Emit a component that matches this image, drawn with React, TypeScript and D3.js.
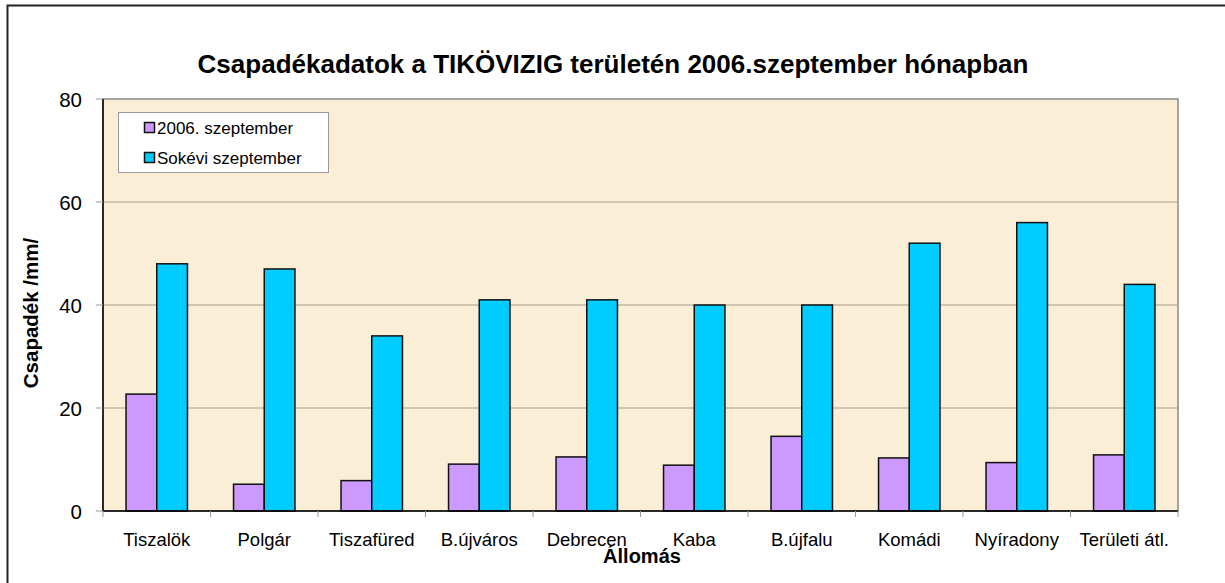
import * as d3 from "d3";

// stations (x categories)
const stations = [
  "Tiszalök",
  "Polgár",
  "Tiszafüred",
  "B.újváros",
  "Debrecen",
  "Kaba",
  "B.újfalu",
  "Komádi",
  "Nyíradony",
  "Területi átl.",
];

// series values, mm
const sept2006 = [22.7, 5.2, 5.9, 9.1, 10.5, 8.9, 14.5, 10.3, 9.4, 10.9];
const sokevi = [48, 47, 34, 41, 41, 40, 40, 52, 56, 44];

const seriesNames = ["2006. szeptember", "Sokévi szeptember"];
const seriesColors = ["#CC99FF", "#00CCFF"];
const yTicks = [0, 20, 40, 60, 80];

const W = 1225;
const H = 583;
const margin = { top: 99, right: 47, bottom: 72, left: 103 };

const App = () => {
  const plotW = W - margin.left - margin.right;
  const plotH = H - margin.top - margin.bottom;

  const x = d3.scaleBand().domain(stations).range([margin.left, margin.left + plotW]);
  const step = x.bandwidth();
  // excel style: gap width 150% of a bar
  const barW = step / 3.5;
  const gap = step - 2 * barW;
  const xs = d3
    .scaleBand()
    .domain(seriesNames)
    .range([gap / 2, gap / 2 + 2 * barW]);

  const y = d3.scaleLinear().domain([0, 80]).range([margin.top + plotH, margin.top]);

  const data = [sept2006, sokevi];
  const font = "'Liberation Sans', Arial, sans-serif";

  return (
    <svg
      width={W}
      height={H}
      style={{ position: "absolute", left: 0, top: 0, background: "#fff", fontFamily: font }}
    >
      {/* outer chart border, cut off on right and bottom */}
      <rect x={7.5} y={5.5} width={W + 20} height={H + 20} fill="#fff" stroke="#222" strokeWidth={2} />

      <text x={613} y={73} textAnchor="middle" fontSize={26} fontWeight="bold" fill="#000">
        Csapadékadatok a TIKÖVIZIG területén 2006.szeptember hónapban
      </text>

      {/* plot area */}
      <rect x={margin.left} y={margin.top} width={plotW} height={plotH} fill="#FBEED6" stroke="#8a8a8a" strokeWidth={1.5} />

      {/* grid lines */}
      {yTicks.slice(1, -1).map((t) => (
        <line key={t} x1={margin.left} x2={margin.left + plotW} y1={y(t)} y2={y(t)} stroke="#A39E8C" strokeWidth={1} />
      ))}

      {/* bars */}
      {data.map((vals, si) =>
        vals.map((v, i) => (
          <rect
            key={si + "-" + i}
            x={(x(stations[i]) as number) + (xs(seriesNames[si]) as number)}
            y={y(v)}
            width={xs.bandwidth()}
            height={y(0) - y(v)}
            fill={seriesColors[si]}
            stroke="#111"
            strokeWidth={1.5}
          />
        ))
      )}

      {/* y axis */}
      <line x1={margin.left} x2={margin.left} y1={margin.top} y2={y(0)} stroke="#000" strokeWidth={1.5} />
      {yTicks.map((t) => (
        <g key={t}>
          <line x1={margin.left - 7} x2={margin.left} y1={y(t)} y2={y(t)} stroke="#999" />
          <text x={82} y={y(t) + 7.5} textAnchor="end" fontSize={20.5} fill="#000">
            {t}
          </text>
        </g>
      ))}

      {/* x axis */}
      <line x1={margin.left} x2={margin.left + plotW} y1={y(0)} y2={y(0)} stroke="#000" strokeWidth={1.5} />
      {stations.map((s) => (
        <g key={s}>
          <line x1={(x(s) as number) + step} x2={(x(s) as number) + step} y1={y(0)} y2={y(0) + 6} stroke="#999" />
          <text x={(x(s) as number) + step / 2} y={546} textAnchor="middle" fontSize={18.5} fill="#000">
            {s}
          </text>
        </g>
      ))}
      <line x1={margin.left} x2={margin.left} y1={y(0)} y2={y(0) + 6} stroke="#999" />

      <text x={642} y={563} textAnchor="middle" fontSize={20} fontWeight="bold" fill="#000">
        Állomás
      </text>
      <text
        transform="translate(38,313) rotate(-90)"
        textAnchor="middle"
        fontSize={20.5}
        fontWeight="bold"
        fill="#000"
      >
        Csapadék /mm/
      </text>

      {/* legend */}
      <g>
        <rect x={118.5} y={112.5} width={210} height={60} fill="#fff" stroke="#999" />
        {seriesNames.map((n, i) => (
          <g key={n}>
            <rect x={144.5} y={122.5 + i * 30} width={10} height={10} fill={seriesColors[i]} stroke="#111" strokeWidth={1.5} />
            <text x={157} y={134 + i * 30} fontSize={17} fill="#000">
              {n}
            </text>
          </g>
        ))}
      </g>
    </svg>
  );
};

export default App;
